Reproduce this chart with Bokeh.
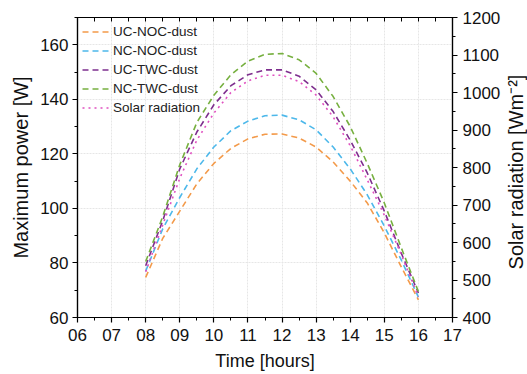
from bokeh.plotting import figure
from bokeh.models import Range1d, LinearAxis, FixedTicker, Legend, LegendItem, Div
from bokeh.layouts import row
from bokeh.embed import file_html
from bokeh.resources import INLINE

hours = [8, 8.5, 9, 9.5, 10, 10.5, 11, 11.5, 12, 12.5, 13, 13.5, 14, 14.5, 15, 15.5, 16]
uc_noc_dust = [74.7, 89.0, 99.0, 109.0, 116.5, 122.0, 125.5, 127.2, 127.3, 125.8, 122.5, 117.0, 110.0, 102.0, 91.0, 78.5, 66.5]
nc_noc_dust = [77.0, 92.5, 104.0, 114.5, 122.5, 128.5, 132.0, 134.0, 134.2, 132.5, 128.8, 122.5, 114.5, 105.0, 93.5, 81.0, 67.5]
uc_twc_dust = [79.0, 95.5, 114.5, 128.0, 138.0, 145.0, 149.0, 150.8, 150.8, 148.5, 143.5, 135.5, 125.0, 113.0, 99.0, 83.5, 69.0]
nc_twc_dust = [80.5, 97.0, 116.0, 131.5, 141.5, 149.0, 154.0, 156.5, 156.8, 154.5, 149.5, 141.0, 130.0, 116.5, 102.0, 85.5, 69.5]
solar_radiation = [522, 647, 771, 873, 945, 1000, 1031, 1046, 1046, 1029, 993, 935, 858, 767, 673, 567, 455]

series_names = ["UC-NOC-dust", "NC-NOC-dust", "UC-TWC-dust", "NC-TWC-dust", "Solar radiation"]
x_ticks = [6, 7, 8, 9, 10, 11, 12, 13, 14, 15, 16, 17]
x_tick_labels = ["06", "07", "08", "09", "10", "11", "12", "13", "14", "15", "16", "17"]
left_ticks = [60, 80, 100, 120, 140, 160]
right_ticks = [400, 500, 600, 700, 800, 900, 1000, 1100, 1200]
right_title = "Solar radiation [Wm\u207b\u00b2]"

FONT = "Liberation Sans"
TICK_SIZE = "17px"

p = figure(width=503, height=374, output_backend="svg", toolbar_location=None,
           x_range=Range1d(6, 17), y_range=Range1d(60, 170),
           min_border_left=77, min_border_right=50, min_border_top=17, min_border_bottom=57)
p.extra_y_ranges = {"solar": Range1d(400, 1200)}
p.background_fill_color = "white"
p.border_fill_color = "white"
p.outline_line_color = "black"
p.outline_line_width = 1.2

# grids
p.xgrid.ticker = FixedTicker(ticks=x_ticks)
p.ygrid.ticker = FixedTicker(ticks=left_ticks)
for g in (p.xgrid, p.ygrid):
    g.grid_line_color = "#e6e6e6"
    g.grid_line_width = 1
    g.grid_line_dash = "2 1"

def style_axis(ax, title_size):
    ax.axis_line_color = "black"
    ax.axis_line_width = 1.2
    ax.major_tick_line_color = "black"
    ax.minor_tick_line_color = "black"
    ax.major_tick_line_width = 1.2
    ax.minor_tick_line_width = 1
    ax.major_label_text_font = FONT
    ax.major_label_text_font_size = TICK_SIZE
    ax.major_label_text_color = "#111111"
    ax.axis_label_text_font = FONT
    ax.axis_label_text_font_size = title_size
    ax.axis_label_text_font_style = "normal"
    ax.axis_label_text_color = "#111111"

xa = p.xaxis[0]
style_axis(xa, "18px")
xa.ticker = FixedTicker(ticks=x_ticks, minor_ticks=[t + 0.5 for t in x_ticks[:-1]])
xa.major_label_overrides = {t: l for t, l in zip(x_ticks, x_tick_labels)}
xa.major_tick_out = 5
xa.major_tick_in = 0
xa.minor_tick_out = 3
xa.minor_tick_in = 0
xa.axis_label = "Time [hours]"
xa.major_label_standoff = 6
xa.axis_label_standoff = 7

ya = p.yaxis[0]
style_axis(ya, "20px")
ya.ticker = FixedTicker(ticks=left_ticks, minor_ticks=[70, 90, 110, 130, 150, 170])
ya.major_tick_out = 5
ya.major_tick_in = 0
ya.minor_tick_out = 3
ya.minor_tick_in = 0
ya.axis_label = "Maximum power [W]"
ya.major_label_standoff = 4
ya.axis_label_standoff = 5

ra = LinearAxis(y_range_name="solar")
style_axis(ra, "20px")
ra.ticker = FixedTicker(ticks=right_ticks, minor_ticks=[450, 550, 650, 750, 850, 950, 1050, 1150])
ra.major_tick_out = 5
ra.major_tick_in = 0
ra.minor_tick_out = 3
ra.minor_tick_in = 0
ra.major_label_standoff = 5
p.add_layout(ra, "right")

# top frame ticks (inward, no labels)
ta = LinearAxis()
style_axis(ta, "12px")
ta.ticker = FixedTicker(ticks=[], minor_ticks=[t / 2 for t in range(12, 35)])
ta.major_tick_out = 0
ta.major_tick_in = 0
ta.minor_tick_out = 0
ta.minor_tick_in = 4
ta.major_label_standoff = 0
p.add_layout(ta, "above")

colors = ["#F39A4A", "#4DB8EA", "#7E2F8E", "#77B040", "#E050C0"]
data = [uc_noc_dust, nc_noc_dust, uc_twc_dust, nc_twc_dust]
items = []
for name, ys, c in zip(series_names[:4], data, colors[:4]):
    r = p.line(hours, ys, line_color=c, line_width=1.6, line_dash="6 4")
    items.append(LegendItem(label=name, renderers=[r]))
rs = p.line(hours, solar_radiation, y_range_name="solar", line_color=colors[4],
            line_width=1.6, line_dash="2 4")
items.append(LegendItem(label=series_names[4], renderers=[rs]))

legend = Legend(items=items, location="top_left", margin=0, padding=5,
                background_fill_alpha=0, border_line_alpha=0,
                glyph_width=28, glyph_height=19, label_height=19, spacing=0,
                label_standoff=3, label_text_font=FONT, label_text_font_size="13.5px",
                label_text_color="#222222")
p.add_layout(legend, "center")

# right axis title, reading bottom-to-top
title_div = Div(
    text=('<span style="position:absolute;left:13px;top:172px;'
          'transform:translate(-50%,-50%) rotate(-90deg);white-space:nowrap;'
          "font-family:'Liberation Sans';font-size:20px;color:#111111;\">"
          + right_title + '</span>'),
    width=24, height=374, margin=0,
    styles={"position": "relative", "overflow": "visible", "background": "white"})

layout = row(p, title_div, spacing=0)
open("out.html", "w").write(file_html(layout, INLINE))
